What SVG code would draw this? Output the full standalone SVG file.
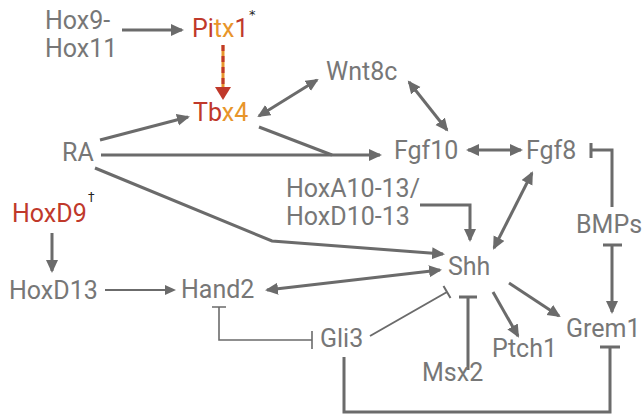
<svg xmlns="http://www.w3.org/2000/svg" width="643" height="420" viewBox="0 0 643 420">
<defs>
<style>
.t{font-family:Roboto,"Liberation Sans",sans-serif;font-size:25px;fill:#777}
.red{fill:#c0392b}
.org{fill:#e8952a}
.sup{font-family:"DejaVu Sans",sans-serif;font-size:13px;fill:#222}
.c{fill:none;stroke:#6b6b6b;stroke-width:3}
.thin{stroke-width:2}
.hair{stroke-width:1.6}
</style>
<marker id="a" markerUnits="userSpaceOnUse" markerWidth="14" markerHeight="14" refX="11" refY="6" orient="auto-start-reverse"><path d="M0,0 L13,6 L0,12 z" fill="#6b6b6b"/></marker>
<marker id="as" markerUnits="userSpaceOnUse" markerWidth="12" markerHeight="12" refX="9" refY="5" orient="auto"><path d="M0,0 L11,5 L0,10 z" fill="#6b6b6b"/></marker>
</defs>
<rect width="643" height="420" fill="#fff"/>
<g id="connectors">
<path class="c" d="M122,30 L182,30" marker-end="url(#a)"/>
<line x1="223" y1="45" x2="223" y2="89" stroke="#e8952a" stroke-width="3"/>
<line x1="223" y1="45" x2="223" y2="89" stroke="#c0392b" stroke-width="3" stroke-dasharray="6 5"/>
<polygon points="215,87 231,87 223,100" fill="#c0392b"/>
<path class="c" d="M100,140 L188,117" marker-end="url(#a)"/>
<path class="c" d="M259,116 L317,80" marker-start="url(#a)" marker-end="url(#a)"/>
<path class="c" d="M259,127 L332,155"/>
<path class="c" d="M101,155 L380,155" marker-end="url(#a)"/>
<path class="c" d="M409,82 L447,130" marker-start="url(#a)" marker-end="url(#a)"/>
<path class="c" d="M468,150 L521,150" marker-start="url(#a)" marker-end="url(#a)"/>
<path class="c" d="M612,207 L612,150 L591,150 M591,143 L591,158"/>
<path class="c" d="M603,245 L622,245 M612,245 L612,312" marker-end="url(#a)"/>
<path class="c" d="M95,168 L272,241 L443,254" marker-end="url(#a)"/>
<path class="c" d="M420,205 L470,205 L470,240" marker-end="url(#a)"/>
<path class="c" d="M532,173 L494,248" marker-start="url(#a)" marker-end="url(#a)"/>
<path class="c" d="M267,290 L440,270" marker-start="url(#a)" marker-end="url(#a)"/>
<path class="c" d="M52,233 L52,271" marker-end="url(#a)"/>
<path class="c thin" d="M105,290 L174,290" marker-end="url(#as)"/>
<path class="c hair" d="M212,307 L226,307 M219,307 L219,340 L312,340 M312,331 L312,349"/>
<path class="c thin" d="M370,336 L447,292 M443.5,285.9 L450.5,298.1"/>
<path class="c" d="M468,370 L468,297 M459,297 L477,297"/>
<path class="c" d="M493,292 L518,336" marker-end="url(#a)"/>
<path class="c" d="M509,283 L559,316" marker-end="url(#a)"/>
<path class="c" d="M344,357 L344,412 L610,412 L610,347 M600,347 L620,347"/>
</g>
<g id="hox9"><text class="t" x="45" y="29">Hox9-</text><text class="t" x="45" y="57">Hox11</text></g>
<g id="pitx1"><text class="t" x="192" y="37"><tspan class="red">Pi</tspan><tspan class="org">tx</tspan><tspan class="red">1</tspan></text><text class="sup" x="249" y="19">*</text></g>
<g id="tbx4"><text class="t" x="193" y="121"><tspan class="red">Tb</tspan><tspan class="org">x4</tspan></text></g>
<g id="wnt8c"><text class="t" x="326" y="80">Wnt8c</text></g>
<g id="ra"><text class="t" x="62" y="161">RA</text></g>
<g id="fgf10"><text class="t" x="394" y="159">Fgf10</text></g>
<g id="fgf8"><text class="t" x="526" y="159">Fgf8</text></g>
<g id="hoxa"><text class="t" x="286" y="197">HoxA10-13/</text><text class="t" x="286" y="225">HoxD10-13</text></g>
<g id="hoxd9"><text class="t red" x="12" y="222">HoxD9</text><text class="sup" x="88" y="201">†</text></g>
<g id="hoxd13"><text class="t" x="9" y="299">HoxD13</text></g>
<g id="hand2"><text class="t" x="181" y="298">Hand2</text></g>
<g id="shh"><text class="t" x="448" y="275">Shh</text></g>
<g id="bmps"><text class="t" x="576" y="233">BMPs</text></g>
<g id="gli3"><text class="t" x="320" y="347">Gli3</text></g>
<g id="ptch1"><text class="t" x="492" y="357">Ptch1</text></g>
<g id="grem1"><text class="t" x="566" y="337">Grem1</text></g>
<g id="msx2"><text class="t" x="422" y="381">Msx2</text></g>
</svg>
